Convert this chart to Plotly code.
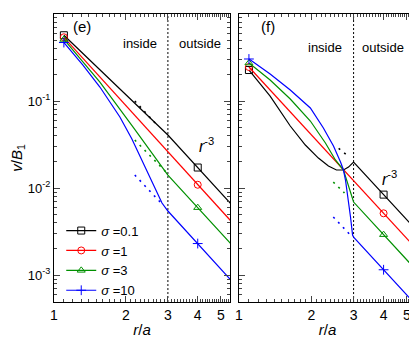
import plotly.graph_objects as go

# panel (e)
e_black_r = [1.1, 3.0, 5.5]
e_black_v = [0.57, 0.0407, 0.0066]
e_red_r = [1.1, 3.0, 5.5]
e_red_v = [0.54, 0.0259, 0.0042]
e_green_r = [1.101, 1.310, 1.557, 2.160, 3.0, 5.5]
e_green_v = [0.51, 0.288, 0.165, 0.0489, 0.0141, 0.00229]
e_blue_r = [1.101, 1.322, 1.557, 1.888, 2.120, 2.331, 2.572, 2.834, 3.0, 5.5]
e_blue_v = [0.47, 0.259, 0.1448, 0.0655, 0.0366, 0.0210, 0.01204, 0.00672, 0.00544, 0.00088]
e_mark_r = [1.1, 4.0]
e_mark_v = {
    "0.1": [0.57, 0.0172],
    "1": [0.54, 0.0109],
    "3": [0.51, 0.00595],
    "10": [0.47, 0.0023],
}
e_guides = [
    ([2.18, 2.70], [0.100, 0.053], "black"),
    ([2.18, 2.97], [0.0356, 0.0149], "#009000"),
    ([2.18, 2.86], [0.0141, 0.00638], "blue"),
]

# panel (f)
f_black_r = [1.101, 1.348, 1.635, 1.889, 2.141, 2.357, 2.546, 2.723, 2.858, 3.0, 5.5]
f_black_v = [0.227, 0.114, 0.0516, 0.0312, 0.0221, 0.0179, 0.0161, 0.0161, 0.0174, 0.0199, 0.00323]
f_red_r = [1.1, 3.0, 5.5]
f_red_v = [0.246, 0.0121, 0.00197]
f_green_r = [1.101, 1.348, 1.635, 1.982, 2.290, 2.521, 2.723, 2.858, 3.0, 5.5]
f_green_v = [0.2734, 0.1743, 0.1054, 0.0589, 0.0329, 0.0210, 0.0161, 0.01082, 0.0069, 0.00112]
f_blue_r = [1.101, 1.348, 1.635, 1.982, 2.246, 2.474, 2.647, 2.723, 2.776, 2.858, 2.913, 2.971, 3.0, 5.5]
f_blue_v = [0.3039, 0.2043, 0.1338, 0.0831, 0.0489, 0.0304, 0.0199, 0.0161, 0.01236, 0.00728,
            0.00464, 0.00288, 0.00273, 0.000443]
f_mark_r = [1.1, 4.0]
f_mark_v = {
    "0.1": [0.227, 0.0084],
    "1": [0.246, 0.00512],
    "3": [0.273, 0.00291],
    "10": [0.304, 0.00115],
}
f_guides = [
    ([2.60, 2.85], [0.0285, 0.0233], "black"),
    ([2.47, 2.75], [0.0117, 0.00877], "#009000"),
    ([2.47, 2.91], [0.00464, 0.00288], "blue"),
]

sigmas = ["0.1", "1", "3", "10"]
colors = {"0.1": "black", "1": "red", "3": "#009000", "10": "blue"}
symbols = {"0.1": "square-open", "1": "circle-open", "3": "triangle-up-open", "10": "cross-thin-open"}
boundary = 3.0
y_span = [1e-4, 1.0]

e_lines = {"0.1": (e_black_r, e_black_v), "1": (e_red_r, e_red_v),
           "3": (e_green_r, e_green_v), "10": (e_blue_r, e_blue_v)}
f_lines = {"0.1": (f_black_r, f_black_v), "1": (f_red_r, f_red_v),
           "3": (f_green_r, f_green_v), "10": (f_blue_r, f_blue_v)}

fig = go.Figure()

for xa, ya, lines, mark_r, mark_v, guides in [
    ("x", "y", e_lines, e_mark_r, e_mark_v, e_guides),
    ("x2", "y2", f_lines, f_mark_r, f_mark_v, f_guides),
]:
    # boundary r = 3a
    fig.add_trace(go.Scatter(x=[boundary, boundary], y=y_span, mode="lines",
                             line=dict(color="black", width=1, dash="2px,2px"),
                             xaxis=xa, yaxis=ya, showlegend=False))
    for gr, gv, gc in guides:
        fig.add_trace(go.Scatter(x=gr, y=gv, mode="lines",
                                 line=dict(color=gc, width=1.6, dash="2px,5px"),
                                 xaxis=xa, yaxis=ya, showlegend=False))
    for s in sigmas:
        r, v = lines[s]
        fig.add_trace(go.Scatter(x=r, y=v, mode="lines", line=dict(color=colors[s], width=1.2),
                                 xaxis=xa, yaxis=ya, showlegend=False))
        fig.add_trace(go.Scatter(x=mark_r, y=mark_v[s], mode="markers",
                                 marker=dict(symbol=symbols[s], size=7, color=colors[s],
                                             line=dict(width=1, color=colors[s])),
                                 xaxis=xa, yaxis=ya, showlegend=False))

# legend entries
for s in sigmas:
    fig.add_trace(go.Scatter(x=[None], y=[None], mode="lines+markers", name="<i>σ</i> =" + s,
                             line=dict(color=colors[s], width=1.2),
                             marker=dict(symbol=symbols[s], size=7, color=colors[s],
                                         line=dict(width=1, color=colors[s]))))

x_ticks = [1, 2, 3, 4, 5]
x_minor = [round(1 + 0.1 * i, 1) for i in range(1, 46) if i % 10 != 0]
y_ticks = [1e-3, 1e-2, 1e-1, 1]
y_text = ["10<sup>-3</sup>", "10<sup>-2</sup>", "10<sup>-1</sup>", "10<sup>0</sup>"]
y_minor = [m * 10 ** p for p in range(-4, 0) for m in range(2, 10)]

xcommon = dict(type="log", range=[0, 0.737], tickvals=x_ticks, ticktext=[str(t) for t in x_ticks],
               ticks="inside", ticklen=6, showline=True, linecolor="black", linewidth=1,
               mirror="allticks", showgrid=False, zeroline=False,
               minor=dict(tickvals=x_minor, ticks="inside", ticklen=3, showgrid=False),
               title=dict(text="<i>r</i>/<i>a</i>", font=dict(size=15), standoff=2),
               tickfont=dict(size=14))
ycommon = dict(type="log", range=[-3.31, 0], tickvals=y_ticks, ticktext=y_text,
               ticks="inside", ticklen=6, showline=True, linecolor="black", linewidth=1,
               mirror="allticks", showgrid=False, zeroline=False,
               minor=dict(tickvals=y_minor, ticks="inside", ticklen=3, showgrid=False),
               tickfont=dict(size=13))

# the page body adds an 8px offset, so the figure is drawn 8px smaller
fig.update_layout(
    width=409, height=333,
    margin=dict(l=46, r=1, t=6, b=39),
    paper_bgcolor="white", plot_bgcolor="white",
    font=dict(family="Liberation Sans, Arial, sans-serif", color="black", size=13),
    xaxis=dict(xcommon, domain=[0, 0.486], anchor="y"),
    xaxis2=dict(xcommon, domain=[0.511, 1], anchor="y2"),
    yaxis=dict(ycommon, anchor="x",
               title=dict(text="<i>v</i>/<i>B</i><sub>1</sub>", font=dict(size=15), standoff=2)),
    yaxis2=dict(ycommon, anchor="x2", showticklabels=False),
    legend=dict(x=0.02, y=0.30, xanchor="left", yanchor="top", bgcolor="rgba(0,0,0,0)",
                font=dict(size=13), itemwidth=30, tracegroupgap=0),
    showlegend=True,
)

notes = [
    ("(e)", 0.077, 0.958, 15),
    ("inside", 0.238, 0.899, 13),
    ("outside", 0.403, 0.899, 13),
    ("<i>r</i><sup>-3</sup>", 0.420, 0.545, 16),
    ("(f)", 0.591, 0.955, 15),
    ("inside", 0.749, 0.882, 13),
    ("outside", 0.909, 0.882, 13),
    ("<i>r</i><sup>-3</sup>", 0.928, 0.431, 16),
]
for text, x, y, size in notes:
    fig.add_annotation(text=text, x=x, y=y, xref="paper", yref="paper", showarrow=False,
                       font=dict(size=size), xanchor="center", yanchor="middle")

fig.write_html("out.html")
